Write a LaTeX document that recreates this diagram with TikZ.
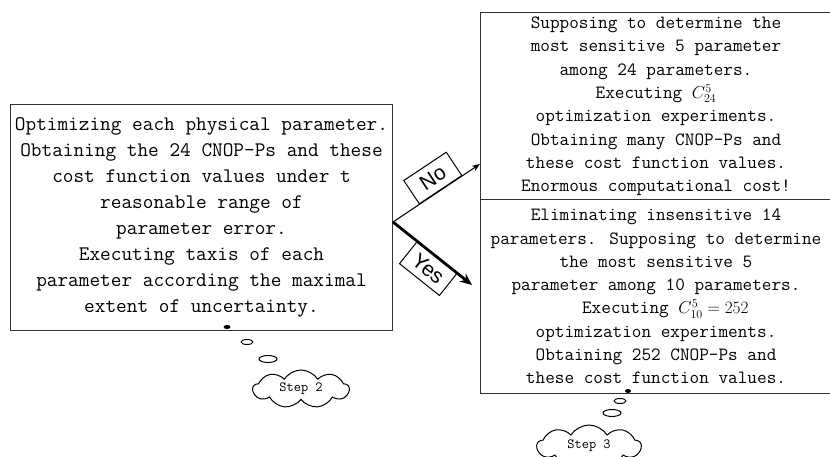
\documentclass[tikz,border=0pt]{standalone}
\usepackage{fontspec}
\usetikzlibrary{shapes.symbols,arrows.meta}
\newfontfamily\labelfont{Liberation Sans}

\tikzset{
  txtbox/.style={draw=black!80, line width=1pt, inner sep=0pt, align=center,
    font=\ttfamily\fontsize{18.7}{23.3}\selectfont},
  tag/.style={draw, line width=1pt, minimum width=51pt, minimum height=28pt,
    inner sep=0pt, font=\labelfont\fontsize{21}{21}\selectfont},
  stepcloud/.style={cloud, draw, line width=1pt, cloud puffs=9, cloud puff arc=115,
    cloud ignores aspect, minimum width=96pt, minimum height=38pt, inner sep=1pt,
    font=\ttfamily\fontsize{14}{14}\selectfont},
}

\begin{document}
\begin{tikzpicture}[x=1pt, y=-1pt]
  \clip (0,0) rectangle (830,457);
  \node [txtbox, minimum width=382pt, minimum height=225pt,
    font=\ttfamily\fontsize{20.7}{26}\selectfont] (lbox) at (201.5,217.5)
    {Optimizing each physical parameter.\\
     Obtaining the 24 CNOP-Ps and these\\
     cost function values under t\\
     reasonable range of\\
     parameter error.\\
     Executing taxis of each\\
     parameter according the maximal\\
     extent of uncertainty.};
  \node [txtbox, minimum width=352pt, minimum height=187pt] (tbox) at (656,106.5)
    {Supposing to determine the\\
     most sensitive 5 parameter\\
     among 24 parameters.\\
     Executing $C_{24}^{5}$\\
     optimization experiments.\\
     Obtaining many CNOP-Ps and\\
     these cost function values.\\
     Enormous computational cost!};
  \node [txtbox, minimum width=352pt, minimum height=193pt] (bbox) at (656,296.5)
    {Eliminating insensitive 14\\
     parameters. Supposing to determine\\
     the most sensitive 5\\
     parameter among 10 parameters.\\
     \quad Executing $C_{10}^{5}=252$\\
     optimization experiments.\\
     Obtaining 252 CNOP-Ps and\\
     these cost function values.};

  \coordinate (fork) at (393,222);
  \coordinate (noend) at (480,164);
  \coordinate (yesend) at (472,285);
  \draw [line width=1pt, -{Stealth[length=8pt,width=6pt]}] (fork) --
    node [tag, sloped, above, pos=0.55] (notag) {No} (noend);
  \draw [line width=2.8pt, -{Stealth[length=12pt,width=10pt]}] (fork) --
    node [tag, sloped, below, pos=0.56] (yestag) {Yes} (yesend);

  \fill (227,327) ellipse [x radius=3.5, y radius=2];
  \draw [line width=1pt] (247,342) ellipse [x radius=6, y radius=2.5];
  \draw [line width=1pt] (268,359) ellipse [x radius=9, y radius=3.5];
  \node [stepcloud] (step2) at (301,389) {Step 2};

  \fill (628,391) ellipse [x radius=3, y radius=2];
  \draw [line width=1pt] (620,401) ellipse [x radius=6, y radius=2.5];
  \draw [line width=1pt] (612,413) ellipse [x radius=9, y radius=3.5];
  \node [stepcloud, minimum width=104pt, minimum height=42pt] (step3) at (589,446) {Step 3};
\end{tikzpicture}
\end{document}
